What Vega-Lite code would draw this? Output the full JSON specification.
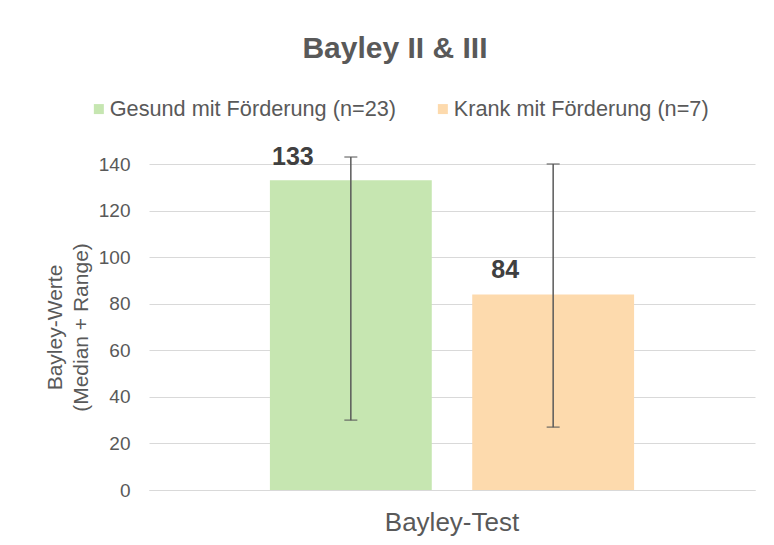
{
  "$schema": "https://vega.github.io/schema/vega-lite/v6.json",
  "autosize": "none",
  "width": 606,
  "height": 326,
  "padding": {"left": 149, "top": 164, "right": 19, "bottom": 55},
  "background": "white",
  "title": {
    "text": "Bayley II & III",
    "font": "Liberation Sans",
    "fontSize": 30,
    "fontWeight": "bold",
    "color": "#595959",
    "anchor": "middle",
    "offset": 34,
    "dx": -57
  },
  "data": {
    "values": [
      {"test": "Bayley-Test", "group": "Gesund mit Förderung (n=23)", "median": 133, "min": 30, "max": 143},
      {"test": "Bayley-Test", "group": "Krank mit Förderung (n=7)", "median": 84, "min": 27, "max": 140}
    ]
  },
  "encoding": {
    "x": {
      "field": "test",
      "type": "nominal",
      "scale": {"paddingInner": 0, "paddingOuter": 0.332},
      "axis": {
        "title": null,
        "labelAngle": 0,
        "labelFont": "Liberation Sans",
        "labelFontSize": 26,
        "labelColor": "#595959",
        "labelPadding": 19,
        "ticks": false,
        "domainColor": "#d9d9d9",
        "domainWidth": 1
      }
    },
    "xOffset": {
      "field": "group",
      "type": "nominal",
      "scale": {"paddingInner": 0.2, "paddingOuter": 0}
    }
  },
  "layer": [
    {
      "mark": {"type": "bar"},
      "encoding": {
        "y": {
          "field": "median",
          "type": "quantitative",
          "scale": {"domain": [0, 140], "nice": false},
          "axis": {
            "values": [0, 20, 40, 60, 80, 100, 120, 140],
            "title": ["Bayley-Werte", "(Median + Range)"],
            "titleFont": "Liberation Sans",
            "titleFontSize": 21,
            "titleFontWeight": "normal",
            "titleColor": "#595959",
            "titlePadding": 7,
            "titleLineHeight": 26,
            "labelFont": "Liberation Sans",
            "labelFontSize": 19,
            "labelColor": "#595959",
            "labelPadding": 19,
            "ticks": false,
            "domain": false,
            "gridColor": "#d9d9d9",
            "gridWidth": 1.2
          }
        },
        "color": {
          "field": "group",
          "type": "nominal",
          "scale": {"range": ["#C6E6B1", "#FDDAAD"]},
          "legend": {
            "title": null,
            "orient": "none",
            "direction": "horizontal",
            "legendX": -61,
            "legendY": -66,
            "symbolType": "square",
            "symbolSize": 100,
            "symbolStrokeWidth": 0,
            "labelFont": "Liberation Sans",
            "labelFontSize": 21.7,
            "labelColor": "#595959",
            "labelOffset": 0,
            "columnPadding": 35,
            "labelLimit": 400
          }
        }
      }
    },
    {
      "mark": {"type": "rule", "color": "#595959", "strokeWidth": 1.5},
      "encoding": {
        "y": {"field": "min", "type": "quantitative"},
        "y2": {"field": "max"}
      }
    },
    {
      "mark": {"type": "tick", "color": "#595959", "thickness": 1.5, "size": 13, "orient": "horizontal"},
      "encoding": {"y": {"field": "min", "type": "quantitative"}}
    },
    {
      "mark": {"type": "tick", "color": "#595959", "thickness": 1.5, "size": 13, "orient": "horizontal"},
      "encoding": {"y": {"field": "max", "type": "quantitative"}}
    },
    {
      "transform": [{"filter": "datum.median > 100"}],
      "mark": {"type": "text", "font": "Liberation Sans", "fontSize": 25, "fontWeight": "bold", "color": "#404040", "baseline": "middle", "dx": -58, "dy": -23},
      "encoding": {
        "y": {"field": "median", "type": "quantitative"},
        "text": {"field": "median", "type": "quantitative"}
      }
    },
    {
      "transform": [{"filter": "datum.median <= 100"}],
      "mark": {"type": "text", "font": "Liberation Sans", "fontSize": 25, "fontWeight": "bold", "color": "#404040", "baseline": "middle", "dx": -48, "dy": -24},
      "encoding": {
        "y": {"field": "median", "type": "quantitative"},
        "text": {"field": "median", "type": "quantitative"}
      }
    }
  ],
  "config": {
    "view": {"stroke": null}
  }
}
